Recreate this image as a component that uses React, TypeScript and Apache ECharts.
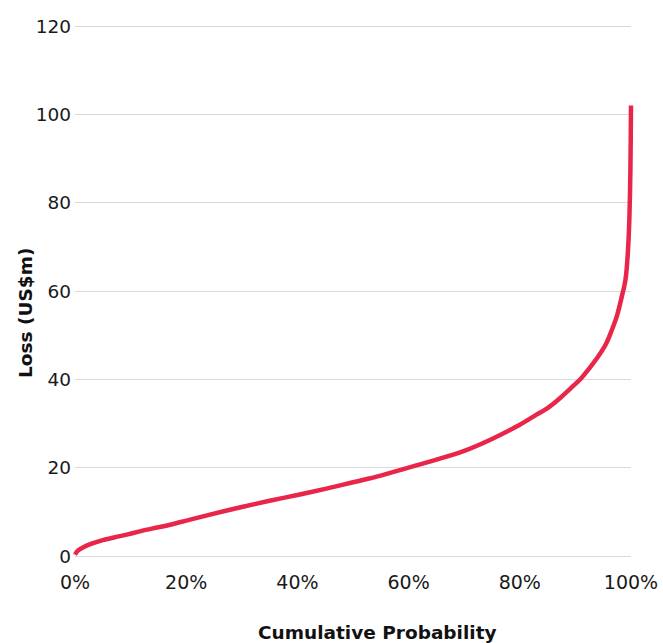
import React, { useEffect, useRef } from "react";
import * as echarts from "echarts";

const probabilityPct = [0, 0.5, 1.5, 3, 5, 7, 9.5, 12, 15, 17.5, 20, 25, 30, 35, 40, 45, 50, 55, 60, 65, 70, 75, 80, 83, 85, 87, 89, 91, 92.5, 94, 95.5, 96.5, 97.5, 98.3, 99, 99.4, 99.7, 99.9, 100];
const lossValues = [0.3, 1.2, 2.0, 2.8, 3.6, 4.2, 4.9, 5.7, 6.5, 7.2, 8.0, 9.6, 11.1, 12.5, 13.8, 15.2, 16.7, 18.2, 20.0, 21.8, 23.8, 26.5, 29.7, 32.0, 33.5, 35.5, 37.8, 40.2, 42.5, 45.0, 48.0, 51.0, 54.5, 58.5, 62.5, 68, 76, 88, 102];
const xTicks = [0, 20, 40, 60, 80, 100];
const yTicks = [0, 20, 40, 60, 80, 100, 120];
const xTitle = "Cumulative Probability";
const yTitle = "Loss (US$m)";

export default function App() {
  const ref = useRef<HTMLDivElement>(null);
  useEffect(() => {
    if (!ref.current) return;
    const chart = echarts.init(ref.current, undefined, { renderer: "svg" });
    const font = "'DejaVu Sans', sans-serif";
    chart.setOption({
      animation: false,
      grid: { left: 75, right: 32, top: 26, bottom: 87, containLabel: false },
      xAxis: {
        type: "value",
        min: xTicks[0],
        max: xTicks[xTicks.length - 1],
        interval: 20,
        axisLine: { show: false },
        axisTick: { show: false },
        splitLine: { show: false },
        axisLabel: { formatter: "{value}%", color: "#1a1a1a", fontSize: 19, fontFamily: font, margin: 16 },
      },
      yAxis: {
        type: "value",
        min: yTicks[0],
        max: yTicks[yTicks.length - 1],
        interval: 20,
        axisLine: { show: false },
        axisTick: { show: false },
        splitLine: { show: true, lineStyle: { color: "#d9d9d9", width: 1.2 } },
        axisLabel: { color: "#1a1a1a", fontSize: 18.5, fontFamily: font, margin: 4 },
      },
      graphic: [
        {
          type: "text",
          left: 258,
          top: 623,
          style: { text: xTitle, fontSize: 18.5, fontWeight: "bold", fontFamily: font, fill: "#111" },
        },
        {
          type: "text",
          x: 16,
          y: 378,
          rotation: Math.PI / 2,
          style: { text: yTitle, fontSize: 18.5, fontWeight: "bold", fontFamily: font, fill: "#111", textVerticalAlign: "top" },
        },
      ],
      series: [
        {
          type: "line",
          data: probabilityPct.map((p, i) => [p, lossValues[i]]),
          showSymbol: false,
          smooth: 0.3,
          lineStyle: { color: "#e8264a", width: 4.5 },
        },
      ],
    });
    return () => chart.dispose();
  }, []);
  return <div ref={ref} style={{ position: "absolute", left: 0, top: 0, width: 663, height: 643 }} />;
}
